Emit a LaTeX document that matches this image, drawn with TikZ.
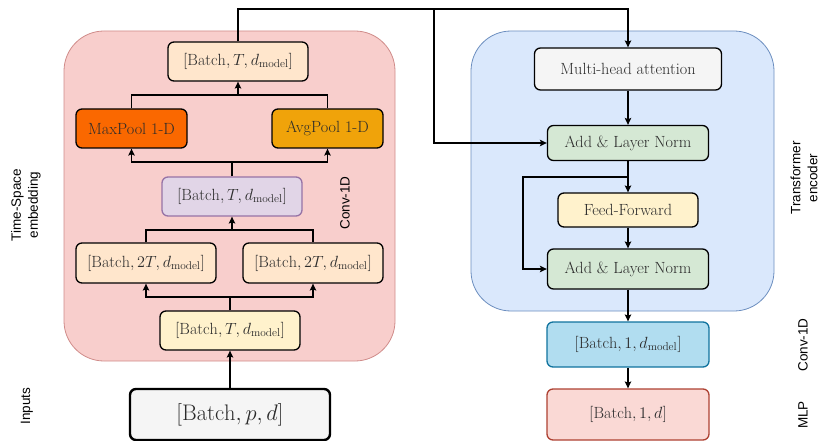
\RequirePackage{fix-cm}
\documentclass[tikz,border=0pt]{standalone}
\usepackage{amsmath}
\usepackage{fontspec}
\setsansfont{Liberation Sans}
\usetikzlibrary{arrows.meta,calc}

\definecolor{txtgrey}{HTML}{2B2B2B}
\definecolor{pinkbg}{HTML}{F8CECC}
\definecolor{pinkln}{HTML}{D08C8A}
\definecolor{bluebg}{HTML}{DAE8FC}
\definecolor{blueln}{HTML}{6C8EBF}
\definecolor{peach}{HTML}{FFE6CC}
\definecolor{cream}{HTML}{FFF2CC}
\definecolor{lilac}{HTML}{E1D5E7}
\definecolor{lilacln}{HTML}{9673A6}
\definecolor{maxorange}{HTML}{FA6800}
\definecolor{avgorange}{HTML}{F0A30A}
\definecolor{lightgrey}{HTML}{F5F5F5}
\definecolor{mint}{HTML}{D5E8D4}
\definecolor{sky}{HTML}{B1DDF0}
\definecolor{skyln}{HTML}{10739E}
\definecolor{rose}{HTML}{FAD9D5}
\definecolor{roseln}{HTML}{AE4132}

\newcommand{\boxfont}{\fontsize{16.2}{19}\selectfont}
\newcommand{\sidefont}{\sffamily\fontsize{13.5}{17}\selectfont}
\newcommand{\shp}[1]{$[\mathrm{Batch}, #1]$}

\tikzset{
  blk/.style={draw=black, line width=1.3pt, rounded corners=6pt, text=txtgrey,
    font=\boxfont, align=center, inner sep=0pt},
  arr/.style={-{Stealth[length=7pt,width=6.5pt,inset=1.5pt]}, line width=1.3pt},
  lnk/.style={line width=1.3pt},
  side/.style={rotate=90, font=\sidefont, align=center, text=black},
}

\begin{document}
\begin{tikzpicture}[x=1pt,y=-1pt]
  \useasboundingbox (0,0) rectangle (822,441);
  % containers
  \filldraw [fill=pinkbg, draw=pinkln, line width=0.8pt, rounded corners=40pt] (64,31) rectangle (395,361);
  \filldraw [fill=bluebg, draw=blueln, line width=0.8pt, rounded corners=40pt] (471,31) rectangle (774,311);

  % time-space embedding
  \node (inp) at (230,414.5) [blk, line width=2.4pt, fill=lightgrey, minimum width=200pt, minimum height=51pt,
    font=\fontsize{22.5}{26}\selectfont] {\shp{p, d}};
  \node (bot) at (230,330.5) [blk, fill=cream, minimum width=140pt, minimum height=39pt] {\shp{T, d_{\mathrm{model}}}};
  \node (c2l) at (146,263) [blk, fill=peach, minimum width=140pt, minimum height=40pt] {\shp{2T, d_{\mathrm{model}}}};
  \node (c2r) at (313,263) [blk, fill=peach, minimum width=140pt, minimum height=40pt] {\shp{2T, d_{\mathrm{model}}}};
  \node (mid) at (232,196.5) [blk, draw=lilacln, fill=lilac, minimum width=140pt, minimum height=39pt] {\shp{T, d_{\mathrm{model}}}};
  \node (maxp) at (131.5,128.5) [blk, fill=maxorange, minimum width=111pt, minimum height=39pt] {MaxPool 1-D};
  \node (avgp) at (327.5,128.5) [blk, fill=avgorange, minimum width=111pt, minimum height=39pt] {AvgPool 1-D};
  \node (top) at (238,61.5) [blk, fill=peach, minimum width=140pt, minimum height=39pt] {\shp{T, d_{\mathrm{model}}}};

  % transformer encoder
  \node (mha) at (628,69) [blk, fill=lightgrey, minimum width=187pt, minimum height=42pt] {Multi-head attention};
  \node (add1) at (628,143) [blk, fill=mint, minimum width=161pt, minimum height=35pt] {Add \& Layer Norm};
  \node (ff) at (628,210) [blk, fill=cream, minimum width=140pt, minimum height=34pt] {Feed-Forward};
  \node (add2) at (628,269) [blk, fill=mint, minimum width=161pt, minimum height=40pt] {Add \& Layer Norm};
  \node (conv) at (628,344.5) [blk, draw=skyln, fill=sky, minimum width=162pt, minimum height=45pt] {\shp{1, d_{\mathrm{model}}}};
  \node (mlp) at (628,414.5) [blk, draw=roseln, fill=rose, minimum width=162pt, minimum height=51pt] {\shp{1, d}};

  % side labels
  \node (lblts) at (26,205) [side] {Time-Space\\embedding};
  \node (lblin) at (27,406) [side] {Inputs};
  \node (lblcv) at (345,203) [side] {Conv-1D};
  \node (lbltr) at (804,178) [side] {Transformer\\encoder};
  \node (lblc2) at (803,345) [side] {Conv-1D};
  \node (lblml) at (803,415) [side] {MLP};

  % junctions
  \coordinate (jb) at (230,297);
  \coordinate (j2) at (232,230);
  \coordinate (jm) at (232,162);
  \coordinate (jt) at (238,95);
  \coordinate (ta) at (434,9);
  \coordinate (jr) at (628,177);
  \coordinate (jl) at (523,177);

  % connectors
  \draw [arr] (inp.north) -- (bot.south);
  \draw [lnk] (bot.north) -- (jb);
  \draw [arr] (jb) -| (c2l.south);
  \draw [arr] (jb) -| (c2r.south);
  \draw [lnk] (c2l.north) |- (j2) -| (c2r.north);
  \draw [arr] (j2) -- (mid.south);
  \draw [lnk] (mid.north) -- (jm);
  \draw [arr] (jm) -| (maxp.south);
  \draw [arr] (jm) -| (avgp.south);
  \draw [lnk] (maxp.north) |- (jt) -| (avgp.north);
  \draw [arr] (jt) -- (top.south);
  \draw [arr] (top.north) |- (ta) -| (mha.north);
  \draw [arr] (ta) |- (add1.west);
  \draw [arr] (mha.south) -- (add1.north);
  \draw [arr] (add1.south) -- (ff.north);
  \draw [arr] (jr) -- (jl) |- (add2.west);
  \draw [arr] (ff.south) -- (add2.north);
  \draw [arr] (add2.south) -- (conv.north);
  \draw [arr] (conv.south) -- (mlp.north);
\end{tikzpicture}
\end{document}
